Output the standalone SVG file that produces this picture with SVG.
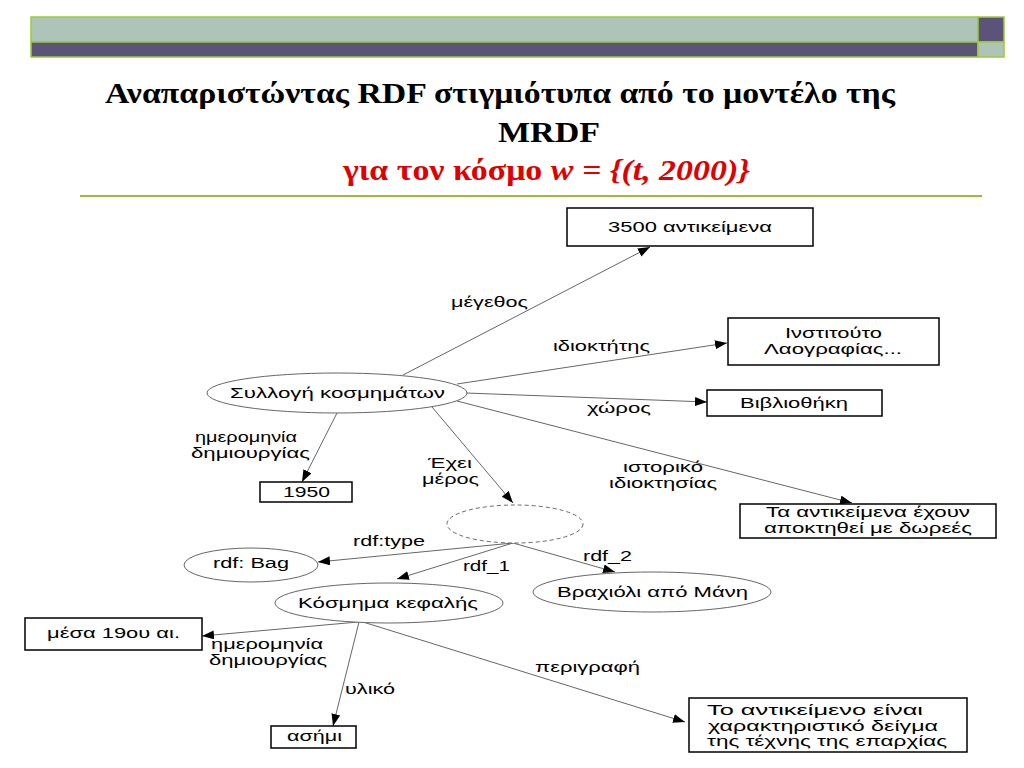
<svg xmlns="http://www.w3.org/2000/svg" width="1024" height="768" viewBox="0 0 1024 768">
<defs>
<style>
.lbl{font-family:"Liberation Sans",Arial,sans-serif;font-size:15.5px;fill:#000}
.box{fill:#fff;stroke:#000;stroke-width:1.5}
.ell{fill:#fff;stroke:#666;stroke-width:1}
.edge{stroke:#666;stroke-width:1;fill:none;marker-end:url(#arr)}
.ttl{font-family:"Liberation Serif","Times New Roman",serif;font-weight:bold;font-size:30px}
</style>
<marker id="arr" markerUnits="userSpaceOnUse" markerWidth="13" markerHeight="10" refX="12" refY="4.5" orient="auto">
<path d="M0,0 L12,4.5 L0,9 z" fill="#000"/>
</marker>
</defs>
<rect width="1024" height="768" fill="#fff"/>
<g id="header">
<rect x="31" y="17" width="947" height="25" fill="#AEC4B8" stroke="#9ACD32" stroke-width="1.5"/>
<rect x="31" y="42" width="947" height="15" fill="#5C5478" stroke="#9ACD32" stroke-width="1.5"/>
<rect x="978" y="17" width="26" height="25" fill="#5C5478" stroke="#9ACD32" stroke-width="1.5"/>
<rect x="978" y="42" width="26" height="15" fill="#AEC4B8" stroke="#9ACD32" stroke-width="1.5"/>
</g>
<g id="title">
<text class="ttl" x="105" y="103" textLength="790" lengthAdjust="spacingAndGlyphs">Αναπαριστώντας RDF στιγμιότυπα από το μοντέλο της</text>
<text class="ttl" x="498" y="142" textLength="102" lengthAdjust="spacingAndGlyphs">MRDF</text>
<text class="ttl" x="343" y="180" fill="#E00000" textLength="407" lengthAdjust="spacingAndGlyphs">για τον κόσμο <tspan font-style="italic">w = {(t, 2000)}</tspan></text>
<line x1="80" y1="196" x2="982" y2="196" stroke="#9BBB3B" stroke-width="2"/>
</g>
<g id="connectors">
<line class="edge" x1="403" y1="375" x2="650" y2="247"/>
<line class="edge" x1="457" y1="384" x2="727" y2="343"/>
<line class="edge" x1="466" y1="393" x2="707" y2="402"/>
<line class="edge" x1="457" y1="401" x2="852" y2="503"/>
<line class="edge" x1="337" y1="413" x2="302" y2="482"/>
<line class="edge" x1="432" y1="407" x2="513" y2="503"/>
<line class="edge" x1="513" y1="543" x2="318" y2="562"/>
<line class="edge" x1="513" y1="543" x2="397" y2="579"/>
<line class="edge" x1="513" y1="543" x2="615" y2="572"/>
<line class="edge" x1="358" y1="622" x2="202" y2="636"/>
<line class="edge" x1="359" y1="622" x2="333" y2="726"/>
<line class="edge" x1="363" y1="622" x2="685" y2="722"/>
<text class="lbl" x="451" y="307" textLength="77" lengthAdjust="spacingAndGlyphs">μέγεθος</text>
<text class="lbl" x="553" y="351" textLength="97" lengthAdjust="spacingAndGlyphs">ιδιοκτήτης</text>
<text class="lbl" x="587" y="413" textLength="64" lengthAdjust="spacingAndGlyphs">χώρος</text>
<text class="lbl" x="623" y="472" textLength="80" lengthAdjust="spacingAndGlyphs">ιστορικό</text>
<text class="lbl" x="609" y="488" textLength="108" lengthAdjust="spacingAndGlyphs">ιδιοκτησίας</text>
<text class="lbl" x="195" y="442" textLength="102" lengthAdjust="spacingAndGlyphs">ημερομηνία</text>
<text class="lbl" x="191" y="458" textLength="119" lengthAdjust="spacingAndGlyphs">δημιουργίας</text>
<text class="lbl" x="428" y="468" textLength="44" lengthAdjust="spacingAndGlyphs">Έχει</text>
<text class="lbl" x="422" y="484" textLength="57" lengthAdjust="spacingAndGlyphs">μέρος</text>
<text class="lbl" x="353" y="546" textLength="72" lengthAdjust="spacingAndGlyphs">rdf:type</text>
<text class="lbl" x="463" y="571" textLength="47" lengthAdjust="spacingAndGlyphs">rdf_1</text>
<text class="lbl" x="583" y="561" textLength="49" lengthAdjust="spacingAndGlyphs">rdf_2</text>
<text class="lbl" x="211" y="649" textLength="112" lengthAdjust="spacingAndGlyphs">ημερομηνία</text>
<text class="lbl" x="209" y="665" textLength="118" lengthAdjust="spacingAndGlyphs">δημιουργίας</text>
<text class="lbl" x="345" y="694" textLength="50" lengthAdjust="spacingAndGlyphs">υλικό</text>
<text class="lbl" x="535" y="672" textLength="105" lengthAdjust="spacingAndGlyphs">περιγραφή</text>
</g>
<g id="n3500">
<rect class="box" x="567" y="208" width="246" height="38"/>
<text class="lbl" x="608" y="232" textLength="164" lengthAdjust="spacingAndGlyphs">3500 αντικείμενα</text>
</g>
<g id="nInstitouto">
<rect class="box" x="728" y="318" width="211" height="47"/>
<text class="lbl" x="785" y="338" textLength="97" lengthAdjust="spacingAndGlyphs">Ινστιτούτο</text>
<text class="lbl" x="764" y="354" textLength="138" lengthAdjust="spacingAndGlyphs">Λαογραφίας...</text>
</g>
<g id="nVivliothiki">
<rect class="box" x="707" y="390" width="175" height="26"/>
<text class="lbl" x="740" y="408" textLength="108" lengthAdjust="spacingAndGlyphs">Βιβλιοθήκη</text>
</g>
<g id="nDorees">
<rect class="box" x="740" y="504" width="256" height="34"/>
<text class="lbl" x="766" y="517" textLength="204" lengthAdjust="spacingAndGlyphs">Τα αντικείμενα έχουν</text>
<text class="lbl" x="764" y="533" textLength="208" lengthAdjust="spacingAndGlyphs">αποκτηθεί με δωρεές</text>
</g>
<g id="nSyllogi">
<ellipse class="ell" cx="337" cy="393" rx="130" ry="20"/>
<text class="lbl" x="230" y="398" textLength="215" lengthAdjust="spacingAndGlyphs">Συλλογή κοσμημάτων</text>
</g>
<g id="n1950">
<rect class="box" x="260" y="482" width="92" height="20"/>
<text class="lbl" x="283" y="497" textLength="47" lengthAdjust="spacingAndGlyphs">1950</text>
</g>
<g id="nBag">
<ellipse class="ell" cx="515" cy="524" rx="68" ry="19" stroke-dasharray="4,3"/>
</g>
<g id="nRdfBag">
<ellipse class="ell" cx="251" cy="565" rx="67" ry="17"/>
<text class="lbl" x="213" y="568" textLength="76" lengthAdjust="spacingAndGlyphs">rdf: Bag</text>
</g>
<g id="nKosmima">
<ellipse class="ell" cx="389" cy="603" rx="114" ry="20"/>
<text class="lbl" x="298" y="608" textLength="180" lengthAdjust="spacingAndGlyphs">Κόσμημα κεφαλής</text>
</g>
<g id="nVraxioli">
<ellipse class="ell" cx="652" cy="592" rx="119" ry="20"/>
<text class="lbl" x="557" y="597" textLength="191" lengthAdjust="spacingAndGlyphs">Βραχιόλι από Μάνη</text>
</g>
<g id="nMesa">
<rect class="box" x="25" y="618" width="177" height="32"/>
<text class="lbl" x="47" y="638" textLength="133" lengthAdjust="spacingAndGlyphs">μέσα 19ου αι.</text>
</g>
<g id="nAsimi">
<rect class="box" x="271" y="726" width="85" height="22"/>
<text class="lbl" x="287" y="741" textLength="55" lengthAdjust="spacingAndGlyphs">ασήμι</text>
</g>
<g id="nPerigrafi">
<rect class="box" x="689" y="698" width="278" height="54"/>
<text class="lbl" x="707" y="715" textLength="216" lengthAdjust="spacingAndGlyphs">Το αντικείμενο είναι</text>
<text class="lbl" x="708" y="731" textLength="230" lengthAdjust="spacingAndGlyphs">χαρακτηριστικό δείγμα</text>
<text class="lbl" x="707" y="746" textLength="240" lengthAdjust="spacingAndGlyphs">της τέχνης της επαρχίας</text>
</g>
</svg>
